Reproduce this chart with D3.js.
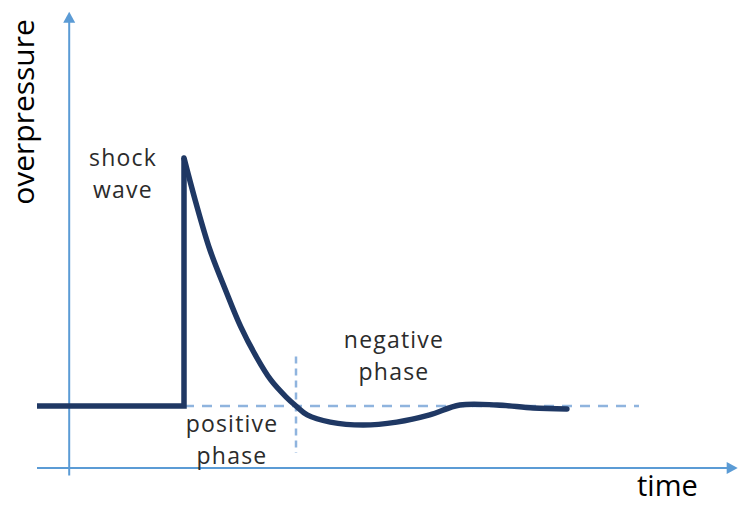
<!DOCTYPE html>
<html>
<head>
<meta charset="utf-8">
<script src="https://cdn.jsdelivr.net/npm/d3@7"></script>
<style>
  body { margin: 0; background: #fff; }
  svg { display: block; }
</style>
</head>
<body>
<script>
//Declare DATA (time in arbitrary units, overpressure relative to peak)
const time = [0, 21, 21, 22.6, 24.7, 26.9, 29.1, 31.3, 33.4, 35.6, 37, 38.6, 41.9, 46.6, 51.4, 56.1, 60.4, 65.7, 70.9, 75.7]
const pressure = [0, 0, 1, 0.83, 0.63, 0.47, 0.32, 0.2, 0.105, 0.036, 0, -0.036, -0.065, -0.077, -0.065, -0.036, 0.004, 0.004, -0.008, -0.012]
const phaseEnd = 37          // positive phase ends where the curve crosses zero
const ambientEnd = 86        // dashed ambient line runs to here
const axisTime = [0, 100.1]
const axisPressure = [-0.28, 1.59]
const axisOriginTime = 4.6
const axisOriginPressure = -0.25

//Declare VARIABLES
const w = 739
const h = 506
const curveColor = '#1f3864'
const axisColor = '#5b9bd5'
const dashColor = '#8fb4de'
const labelFont = "'Open Sans', sans-serif"

const svg = d3.select('body')
  .append('svg')
  .attr('width', w)
  .attr('height', h)

// Scales
const x = d3.scaleLinear().domain([0, 100]).range([37, 737])
const y = d3.scaleLinear().domain([0, 1]).range([406, 158])

const points = time.map((t, i) => ({ t: t, p: pressure[i] }))

//Declare the reference dashes
svg.append('line')
  .attr('x1', x(time[1]))
  .attr('x2', x(ambientEnd))
  .attr('y1', y(0))
  .attr('y2', y(0))
  .attr('stroke', dashColor)
  .attr('stroke-width', 2.5)
  .attr('stroke-dasharray', '10 8')

svg.append('line')
  .attr('x1', x(phaseEnd))
  .attr('x2', x(phaseEnd))
  .attr('y1', y(0.2))
  .attr('y2', y(-0.19))
  .attr('stroke', dashColor)
  .attr('stroke-width', 2.5)
  .attr('stroke-dasharray', '7 5')

//Declare the AXES
const axisG = svg.append('g')

axisG.append('line')
  .attr('x1', x(axisTime[0]))
  .attr('x2', x(axisTime[1]) - 8)
  .attr('y1', y(axisOriginPressure))
  .attr('y2', y(axisOriginPressure))
  .attr('stroke', axisColor)
  .attr('stroke-width', 2)

axisG.append('path')
  .attr('d', `M${x(axisTime[1])},${y(axisOriginPressure)} l-11,-6 l0,12 z`)
  .attr('fill', axisColor)

axisG.append('line')
  .attr('x1', x(axisOriginTime))
  .attr('x2', x(axisOriginTime))
  .attr('y1', y(axisPressure[0]))
  .attr('y2', y(axisPressure[1]) + 8)
  .attr('stroke', axisColor)
  .attr('stroke-width', 2)

axisG.append('path')
  .attr('d', `M${x(axisOriginTime)},${y(axisPressure[1])} l-6,11 l12,0 z`)
  .attr('fill', axisColor)

//Declare the CURVE
const rise = d3.line()
  .x(d => x(d.t))
  .y(d => y(d.p))

const decay = d3.line()
  .x(d => x(d.t))
  .y(d => y(d.p))
  .curve(d3.curveCatmullRom.alpha(0.5))

svg.append('path')
  .attr('d', rise(points.slice(0, 3)))
  .attr('fill', 'none')
  .attr('stroke', curveColor)
  .attr('stroke-width', 5.5)
  .attr('stroke-linejoin', 'miter')

svg.append('path')
  .attr('d', decay(points.slice(2)))
  .attr('fill', 'none')
  .attr('stroke', curveColor)
  .attr('stroke-width', 5.5)
  .attr('stroke-linecap', 'round')
  .attr('stroke-linejoin', 'round')

//Declare axis titles
svg.append('text')
  .attr('transform', 'translate(34,112) rotate(-90)')
  .attr('text-anchor', 'middle')
  .style('font-family', labelFont)
  .style('font-size', '30px')
  .attr('fill', '#000')
  .text('overpressure')

svg.append('text')
  .attr('x', 637)
  .attr('y', 496)
  .style('font-family', labelFont)
  .style('font-size', '29px')
  .attr('fill', '#000')
  .text('time')

//Declare annotations
const notes = [
  { lines: ['shock', 'wave'], cx: 123, y0: 166 },
  { lines: ['negative', 'phase'], cx: 394, y0: 348 },
  { lines: ['positive', 'phase'], cx: 232, y0: 432 }
]

notes.forEach(n => {
  const t = svg.append('text')
    .attr('text-anchor', 'middle')
    .style('font-family', labelFont)
    .style('font-size', '23px')
    .style('letter-spacing', '1.2px')
    .attr('fill', '#2b2b2b')
  n.lines.forEach((l, i) => {
    t.append('tspan')
      .attr('x', n.cx)
      .attr('y', n.y0 + i * 32)
      .text(l)
  })
})
</script>
</body>
</html>
